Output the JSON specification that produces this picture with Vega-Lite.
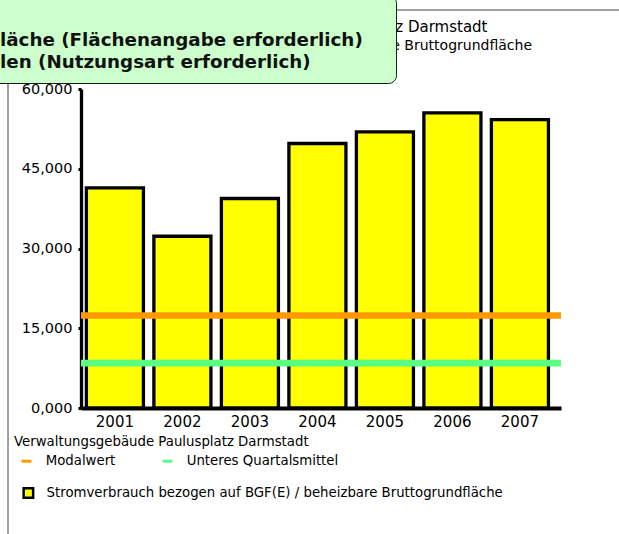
{
  "$schema": "https://vega.github.io/schema/vega-lite/v6.json",
  "autosize": {"type": "none"},
  "padding": {"left": 81, "top": 89, "right": 58, "bottom": 126},
  "width": 480,
  "height": 319,
  "background": "#ffffff",
  "title": {
    "text": "Stromverbrauch bezogen auf BGF(E) / beheizbare Bruttogrundfläche",
    "anchor": "end",
    "align": "right",
    "frame": "group",
    "dx": -29,
    "offset": -58,
    "font": "DejaVu Sans",
    "fontSize": 14,
    "fontWeight": "normal",
    "color": "#000000",
    "zindex": 2
  },
  "datasets": {
    "balken": [
      {"jahr": "2001", "wert": 41400, "serie": "Stromverbrauch bezogen auf BGF(E) / beheizbare Bruttogrundfläche", "hinweis": "Hinweis"},
      {"jahr": "2002", "wert": 32300, "serie": "Stromverbrauch bezogen auf BGF(E) / beheizbare Bruttogrundfläche", "hinweis": "Hinweis"},
      {"jahr": "2003", "wert": 39400, "serie": "Stromverbrauch bezogen auf BGF(E) / beheizbare Bruttogrundfläche", "hinweis": "Hinweis"},
      {"jahr": "2004", "wert": 49750, "serie": "Stromverbrauch bezogen auf BGF(E) / beheizbare Bruttogrundfläche", "hinweis": "Hinweis"},
      {"jahr": "2005", "wert": 51950, "serie": "Stromverbrauch bezogen auf BGF(E) / beheizbare Bruttogrundfläche", "hinweis": "Hinweis"},
      {"jahr": "2006", "wert": 55500, "serie": "Stromverbrauch bezogen auf BGF(E) / beheizbare Bruttogrundfläche", "hinweis": "Hinweis"},
      {"jahr": "2007", "wert": 54250, "serie": "Stromverbrauch bezogen auf BGF(E) / beheizbare Bruttogrundfläche", "hinweis": "Hinweis"}
    ],
    "linien": [
      {"linie": "Modalwert", "wert": 17400, "rahmen": "Rahmen"},
      {"linie": "Unteres Quartalsmittel", "wert": 8450, "rahmen": "Rahmen"}
    ]
  },
  "layer": [
    {
      "data": {"name": "balken"},
      "mark": {"type": "bar", "stroke": "#000000", "strokeWidth": 3.3},
      "encoding": {
        "x": {
          "field": "jahr",
          "type": "ordinal",
          "scale": {"paddingInner": 0.155, "paddingOuter": 0.133, "align": 0.3},
          "axis": {
            "title": null,
            "labelAngle": 0,
            "ticks": false,
            "labelPadding": 6,
            "labelFont": "DejaVu Sans",
            "labelFontSize": 15,
            "labelColor": "#000000",
            "domainColor": "#000000",
            "domainWidth": 4
          }
        },
        "y": {
          "field": "wert",
          "type": "quantitative",
          "scale": {"domain": [0, 60000], "nice": false},
          "axis": {
            "title": "Verwaltungsgebäude Paulusplatz Darmstadt",
            "titleAngle": 0,
            "titleAlign": "right",
            "titleBaseline": "alphabetic",
            "titleX": 406,
            "titleY": -57.3,
            "titleFont": "DejaVu Sans",
            "titleFontSize": 15,
            "titleFontWeight": "normal",
            "titleColor": "#000000",
            "titleLimit": 1000,
            "values": [0, 15000, 30000, 45000, 60000],
            "labelExpr": "datum.value === 0 ? '0,000' : format(datum.value, ',')",
            "grid": false,
            "tickSize": 3,
            "tickWidth": 3,
            "tickColor": "#000000",
            "labelPadding": 6,
            "labelFont": "DejaVu Sans",
            "labelFontSize": 14.5,
            "labelColor": "#000000",
            "domainColor": "#000000",
            "domainWidth": 3.3
          }
        },
        "fill": {
          "field": "serie",
          "type": "nominal",
          "scale": {"range": ["#ffff00"]},
          "legend": {
            "title": null,
            "orient": "none",
            "legendX": -59.25,
            "legendY": 397.25,
            "padding": 0,
            "symbolType": "square",
            "symbolSize": 90,
            "symbolStrokeColor": "#000000",
            "symbolStrokeWidth": 2.5,
            "labelOffset": 11.5,
            "labelFont": "DejaVu Sans",
            "labelFontSize": 13.3,
            "labelColor": "#000000",
            "labelLimit": 1000,
            "encode": {"symbols": {"update": {"stroke": {"value": "#000000"}, "strokeWidth": {"value": 2.5}, "fill": {"value": "#ffff00"}}}},
            "zindex": 1
          }
        },
        "strokeDash": {
          "field": "hinweis",
          "type": "nominal",
          "scale": {"range": [[1, 0]]},
          "legend": {
            "title": ["läche (Flächenangabe erforderlich)", "len (Nutzungsart erforderlich)"],
            "titleOrient": "bottom",
            "orient": "none",
            "legendX": -93,
            "legendY": -94,
            "padding": 12,
            "fillColor": "#ccffcc",
            "strokeColor": "#1a1a1a",
            "cornerRadius": 8,
            "titleFont": "DejaVu Sans",
            "titleFontSize": 18.3,
            "titleFontWeight": "bold",
            "titleColor": "#111111",
            "titleLineHeight": 21.7,
            "titleLimit": 2000,
            "titlePadding": 0,
            "symbolSize": 625,
            "symbolOpacity": 0,
            "symbolStrokeWidth": 0,
            "labelExpr": "'läche (Flächenangabe erforderlich)'",
            "labelFont": "DejaVu Sans",
            "labelFontSize": 18.3,
            "labelFontWeight": "bold",
            "labelOpacity": 0,
            "labelOffset": -4,
            "labelLimit": 2000,
            "encode": {"legend": {"update": {"strokeWidth": {"value": 3}}}},
            "zindex": 3
          }
        }
      }
    },
    {
      "data": {"name": "linien"},
      "mark": {"type": "rule", "strokeWidth": 6.7},
      "encoding": {
        "y": {"field": "wert", "type": "quantitative"},
        "stroke": {
          "field": "linie",
          "type": "nominal",
          "scale": {"domain": ["Modalwert", "Unteres Quartalsmittel"], "range": ["#ff9900", "#5aff82"]},
          "legend": {
            "title": "Verwaltungsgebäude Paulusplatz Darmstadt",
            "orient": "none",
            "legendX": -67,
            "legendY": 346.3,
            "padding": 0,
            "direction": "horizontal",
            "columns": 2,
            "columnPadding": 39,
            "symbolType": "M-0.45,0H0.45",
            "symbolSize": 484,
            "symbolStrokeWidth": 3,
            "labelOffset": 6.7,
            "labelFont": "DejaVu Sans",
            "labelFontSize": 13.3,
            "labelColor": "#000000",
            "labelLimit": 1000,
            "titleFont": "DejaVu Sans",
            "titleFontSize": 13.3,
            "titleFontWeight": "normal",
            "titleColor": "#000000",
            "titlePadding": 0,
            "titleLimit": 1000,
            "encode": {"symbols": {"update": {"stroke": {"signal": "datum.value === 'Modalwert' ? '#ff9900' : '#0d8a0d'"}, "strokeWidth": {"value": 3}}}},
            "zindex": 1
          }
        },
        "opacity": {
          "field": "rahmen",
          "type": "nominal",
          "scale": {"range": [1, 1]},
          "legend": {
            "title": null,
            "orient": "none",
            "legendX": -73.5,
            "legendY": -79.5,
            "padding": 320,
            "strokeColor": "#444444",
            "symbolSize": 0,
            "symbolOpacity": 0,
            "symbolStrokeWidth": 0,
            "labelExpr": "''",
            "labelFontSize": 0,
            "encode": {"legend": {"update": {"strokeWidth": {"value": 1}}}},
            "zindex": 1
          }
        }
      }
    }
  ],
  "config": {
    "view": {"stroke": null},
    "font": "DejaVu Sans"
  }
}
